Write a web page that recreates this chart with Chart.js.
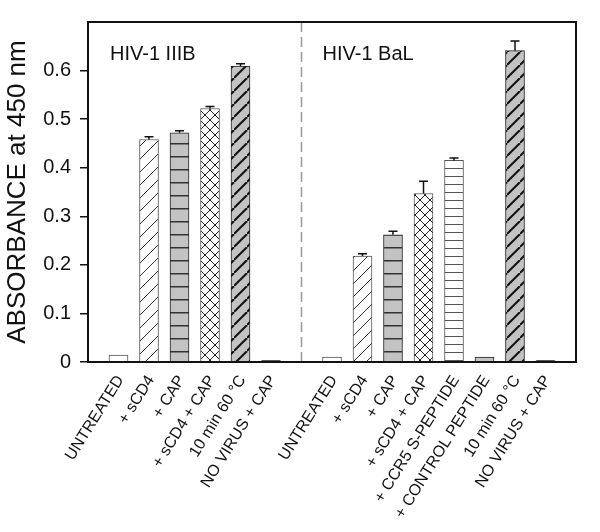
<!DOCTYPE html>
<html>
<head>
<meta charset="utf-8">
<script src="https://cdn.jsdelivr.net/npm/chart.js@4.4.0/dist/chart.umd.min.js"></script>
<style>
  html, body { margin: 0; padding: 0; background: #fff; }
  #wrap { width: 600px; height: 532px; }
</style>
</head>
<body>
<div id="wrap"><canvas id="chart" width="600" height="532"></canvas></div>
<script>
// categories (blank slots at both ends and between the two virus panels)
const labels = ['', 'UNTREATED', '+ sCD4', '+ CAP', '+ sCD4 + CAP', '10 min 60 °C', 'NO VIRUS + CAP',
  '', 'UNTREATED', '+ sCD4', '+ CAP', '+ sCD4 + CAP', '+ CCR5 S-PEPTIDE', '+ CONTROL PEPTIDE',
  '10 min 60 °C', 'NO VIRUS + CAP', ''];
const absorbance = [null, 0.014, 0.458, 0.472, 0.522, 0.609, 0.003,
  null, 0.010, 0.218, 0.262, 0.347, 0.415, 0.010, 0.641, 0.003, null];
const errorUp = [null, 0, 0.006, 0.004, 0.004, 0.005, 0,
  null, 0, 0.005, 0.007, 0.025, 0.005, 0, 0.020, 0, null];
const fillKinds = [null, 'plain', 'slash', 'hlineGray', 'cross', 'slashGray', 'black',
  null, 'plain', 'slash', 'hlineGray', 'cross', 'hline', 'gray', 'slashGray', 'black', null];
const panelTitles = ['HIV-1 IIIB', 'HIV-1 BaL'];
const dividerIndex = 7;

const FONT = "'Liberation Sans', Arial, sans-serif";
const GRAY = '#c3c3c3';

// hatch fills
function makePattern(kind) {
  const c = document.createElement('canvas');
  const g = c.getContext('2d');
  if (kind === 'plain') return '#fff';
  if (kind === 'gray') return GRAY;
  if (kind === 'black') return '#111';
  if (kind === 'slash' || kind === 'slashGray') {
    const s = 13;
    c.width = s; c.height = s;
    g.fillStyle = kind === 'slash' ? '#fff' : GRAY;
    g.fillRect(0, 0, s, s);
    g.strokeStyle = kind === 'slash' ? '#333' : '#111';
    g.lineWidth = kind === 'slash' ? 1 : 2;
    [[0, s, s, 0], [-s, s, 0, 0], [s, s * 2, s * 2, s]].forEach(p => {
      g.beginPath(); g.moveTo(p[0], p[1]); g.lineTo(p[2], p[3]); g.stroke();
    });
  } else if (kind === 'cross') {
    const s = 10;
    c.width = s; c.height = s;
    g.fillStyle = '#fff';
    g.fillRect(0, 0, s, s);
    g.strokeStyle = '#222';
    g.lineWidth = 1;
    [[0, s, s, 0], [-s, s, 0, 0], [s, s * 2, s * 2, s], [0, 0, s, s], [-s, 0, 0, s], [s, 0, s * 2, s]].forEach(p => {
      g.beginPath(); g.moveTo(p[0], p[1]); g.lineTo(p[2], p[3]); g.stroke();
    });
  } else if (kind === 'hlineGray' || kind === 'hline') {
    const h = kind === 'hline' ? 8 : 13;
    c.width = 4; c.height = h;
    g.fillStyle = kind === 'hline' ? '#fff' : GRAY;
    g.fillRect(0, 0, 4, h);
    g.fillStyle = kind === 'hline' ? '#555' : '#333';
    g.fillRect(0, 0, 4, kind === 'hline' ? 1 : 1.5);
  }
  return g.createPattern(c, 'repeat');
}

const bgColors = fillKinds.map(k => (k ? makePattern(k) : null));
const borderColors = fillKinds.map(k => (k === 'plain' || k === 'slash' || k === 'cross' || k === 'hline') ? '#555' : '#222');

const extras = {
  id: 'extras',
  beforeDatasetsDraw(chart) {
    const { ctx, chartArea, scales } = chart;
    const xd = scales.x.getPixelForValue(dividerIndex);
    ctx.save();
    ctx.strokeStyle = '#999';
    ctx.lineWidth = 1.5;
    ctx.setLineDash([10, 5]);
    ctx.beginPath();
    ctx.moveTo(xd, chartArea.top);
    ctx.lineTo(xd, chartArea.bottom);
    ctx.stroke();
    ctx.restore();
  },
  afterDatasetsDraw(chart) {
    const { ctx, chartArea, scales } = chart;
    const meta = chart.getDatasetMeta(0);
    ctx.save();
    // error bars (upper only)
    ctx.strokeStyle = '#111';
    ctx.lineWidth = 1.5;
    errorUp.forEach((e, i) => {
      if (!e || absorbance[i] == null) return;
      const bar = meta.data[i];
      const yTop = scales.y.getPixelForValue(absorbance[i] + e);
      ctx.beginPath();
      ctx.moveTo(bar.x, bar.y);
      ctx.lineTo(bar.x, yTop);
      ctx.moveTo(bar.x - 4.5, yTop);
      ctx.lineTo(bar.x + 4.5, yTop);
      ctx.stroke();
    });
    // frame
    ctx.strokeStyle = '#111';
    ctx.lineWidth = 2;
    ctx.strokeRect(chartArea.left, chartArea.top, chartArea.right - chartArea.left, chartArea.bottom - chartArea.top);
    // panel titles
    ctx.fillStyle = '#111';
    ctx.font = '20px ' + FONT;
    ctx.textBaseline = 'middle';
    ctx.textAlign = 'left';
    ctx.fillText(panelTitles[0], chartArea.left + 22, chartArea.top + 32);
    ctx.fillText(panelTitles[1], scales.x.getPixelForValue(dividerIndex) + 21, chartArea.top + 32);
    ctx.restore();
  }
};

new Chart(document.getElementById('chart'), {
  type: 'bar',
  data: {
    labels: labels,
    datasets: [{
      data: absorbance,
      backgroundColor: bgColors,
      borderColor: borderColors,
      borderWidth: 1,
      barThickness: 19
    }]
  },
  options: {
    responsive: false,
    animation: false,
    layout: { padding: { top: 22, right: 24, left: 0, bottom: 0 } },
    plugins: { legend: { display: false }, tooltip: { enabled: false } },
    scales: {
      x: {
        offset: false,
        grid: { display: false },
        border: { display: false },
        ticks: {
          autoSkip: false, minRotation: 58, maxRotation: 58, labelOffset: 2,
          font: { size: 16, family: FONT }, color: '#111', padding: 2
        },
        afterFit: s => { s.height = 170; }
      },
      y: {
        min: 0, max: 0.7,
        border: { display: false },
        grid: {
          drawOnChartArea: false, tickLength: 8, lineWidth: 1.5,
          tickColor: c => (c.tick && c.tick.value > 0.65) ? 'rgba(0,0,0,0)' : '#111'
        },
        ticks: {
          stepSize: 0.1, padding: 9,
          font: { size: 20, family: FONT }, color: '#111',
          callback: v => v > 0.65 ? '' : (v === 0 ? '0' : v.toFixed(1))
        },
        title: {
          display: true, text: 'ABSORBANCE at 450 nm', color: '#111',
          font: { size: 26, family: FONT }, padding: { top: 2, bottom: 0 }
        },
        afterFit: s => { s.width = 88; }
      }
    }
  },
  plugins: [extras]
});
</script>
</body>
</html>
